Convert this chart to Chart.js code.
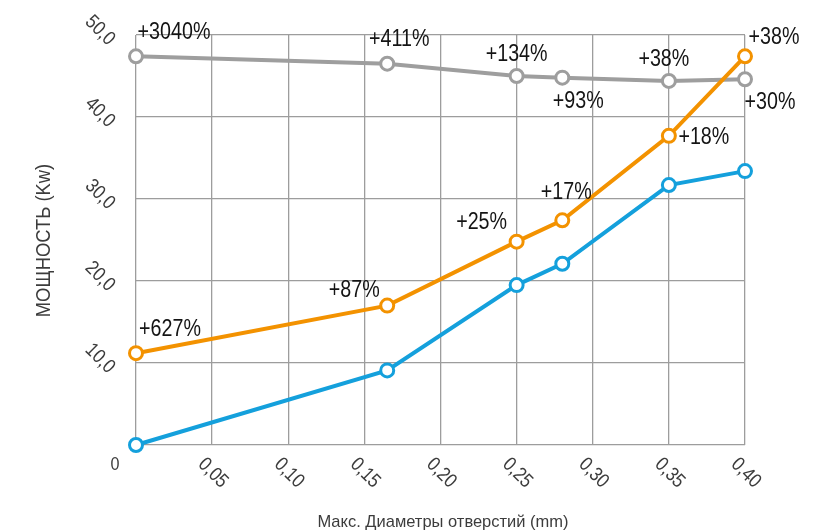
<!DOCTYPE html>
<html>
<head>
<meta charset="utf-8">
<script src="https://cdn.jsdelivr.net/npm/chart.js@4/dist/chart.umd.min.js"></script>
<style>
  html, body { margin: 0; padding: 0; background: #ffffff; }
  #wrap { width: 814px; height: 531px; }
</style>
</head>
<body>
<div id="wrap"><canvas id="chart" width="814" height="531"></canvas></div>
<script>
// Max hole diameter (mm) for each measured point
const diameters = [0.0, 0.165, 0.25, 0.28, 0.35, 0.40];

// Power (kW) for the three configurations
const powerBlue   = [0.0, 9.1, 19.5, 22.1, 31.7, 33.4];
const powerOrange = [11.2, 17.0, 24.8, 27.4, 37.7, 47.4];
const powerGray   = [47.4, 46.5, 45.0, 44.8, 44.4, 44.6];

// Gain labels shown next to the orange and gray points
const orangeGain = ['+627%', '+87%', '+25%', '+17%', '+18%', '+38%'];
const grayGain   = ['+3040%', '+411%', '+134%', '+93%', '+38%', '+30%'];

// Axis ticks
const xTickValues = [0.05, 0.10, 0.15, 0.20, 0.25, 0.30, 0.35, 0.40];
const xTickLabels = ['0,05', '0,10', '0,15', '0,20', '0,25', '0,30', '0,35', '0,40'];
const yTickValues = [10, 20, 30, 40, 50];
const yTickLabels = ['10,0', '20,0', '30,0', '40,0', '50,0'];
const originLabel = '0';

const xTitle = 'Макс. Диаметры отверстий (mm)';
const yTitle = 'МОЩНОСТЬ (Kw)';

// Where each gain label sits relative to its point (pixels)
const orangeGainOffset = [[34, -26], [-33, -17], [-35, -21], [4, -30], [35, 0], [29, -21]];
const grayGainOffset   = [[38, -26], [12, -26], [0, -24], [16, 22], [-5, -24], [25, 21]];

const COLOR_BLUE = '#14a0dc';
const COLOR_ORANGE = '#f39200';
const COLOR_GRAY = '#9e9e9e';
const GRID = '#9d9d9d';

const toPoints = (ys) => diameters.map((x, i) => ({ x: x, y: ys[i] }));

function series(ys, color, order) {
  return {
    data: toPoints(ys),
    borderColor: color,
    backgroundColor: color,
    borderWidth: 4,
    pointRadius: 6.5,
    pointBorderWidth: 3,
    pointBackgroundColor: '#ffffff',
    pointBorderColor: color,
    tension: 0,
    clip: false,
    order: order
  };
}

// Narrow text: regular face squeezed horizontally
function drawText(ctx, text, cx, cy, sizePx, sx, color, rotation, align) {
  ctx.save();
  ctx.translate(cx, cy);
  if (rotation) ctx.rotate(rotation);
  ctx.scale(sx, 1);
  ctx.font = sizePx + 'px "Liberation Sans", Arial, sans-serif';
  ctx.fillStyle = color;
  ctx.textAlign = align || 'center';
  ctx.textBaseline = 'alphabetic';
  ctx.fillText(text, 0, sizePx * 0.716 / 2);
  ctx.restore();
}

const decorations = {
  id: 'decorations',
  afterDraw(chart) {
    const ctx = chart.ctx;
    const xs = chart.scales.x, ys = chart.scales.y;
    const tickColor = '#3c3c3c';

    // x tick labels, slanted
    xTickValues.forEach((v, i) => {
      drawText(ctx, xTickLabels[i], xs.getPixelForValue(v) + 2, 472, 20, 0.85, tickColor, Math.PI / 4);
    });
    // y tick labels, slanted
    yTickValues.forEach((v, i) => {
      drawText(ctx, yTickLabels[i], 101, ys.getPixelForValue(v) - 5.5, 20, 0.85, tickColor, Math.PI / 4);
    });
    drawText(ctx, originLabel, 115, 463, 19, 0.85, tickColor, 0);

    // axis titles
    drawText(ctx, xTitle, 443, 521, 17, 0.97, '#3c3c3c', 0);
    drawText(ctx, yTitle, 42.5, 240.5, 20, 0.92, '#3c3c3c', -Math.PI / 2);

    // gain labels
    const metaO = chart.getDatasetMeta(2);
    const metaG = chart.getDatasetMeta(1);
    metaO.data.forEach((pt, i) => {
      drawText(ctx, orangeGain[i], pt.x + orangeGainOffset[i][0], pt.y + orangeGainOffset[i][1], 24, 0.82, '#141414', 0);
    });
    metaG.data.forEach((pt, i) => {
      drawText(ctx, grayGain[i], pt.x + grayGainOffset[i][0], pt.y + grayGainOffset[i][1], 24, 0.82, '#141414', 0);
    });
  }
};

new Chart(document.getElementById('chart').getContext('2d'), {
  type: 'line',
  data: {
    datasets: [
      series(powerBlue, COLOR_BLUE, 3),
      series(powerGray, COLOR_GRAY, 2),
      series(powerOrange, COLOR_ORANGE, 1)
    ]
  },
  options: {
    responsive: false,
    animation: false,
    devicePixelRatio: 1,
    layout: { padding: { left: 136, right: 69, top: 35, bottom: 86 } },
    plugins: { legend: { display: false }, tooltip: { enabled: false }, title: { display: false } },
    scales: {
      x: {
        type: 'linear', min: 0, max: 0.4,
        ticks: { display: false, stepSize: 0.05 },
        grid: { color: GRID, lineWidth: 1.3, drawTicks: false },
        border: { display: false }
      },
      y: {
        type: 'linear', min: 0, max: 50,
        ticks: { display: false, stepSize: 10 },
        grid: { color: GRID, lineWidth: 1.3, drawTicks: false },
        border: { display: false }
      }
    }
  },
  plugins: [decorations]
});
</script>
</body>
</html>
